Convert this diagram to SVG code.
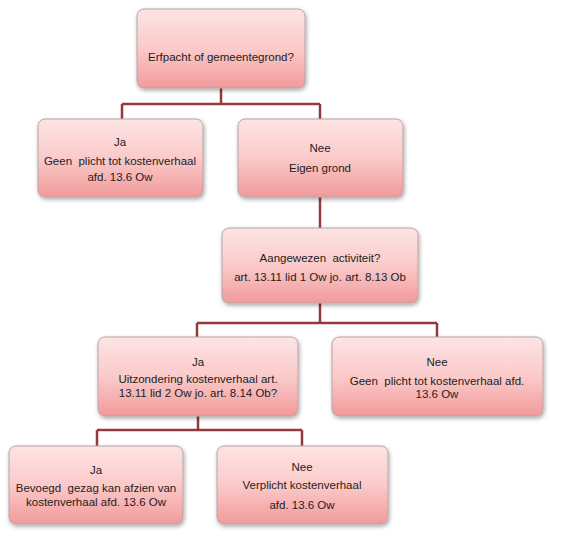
<svg xmlns="http://www.w3.org/2000/svg" width="567" height="546" viewBox="0 0 567 546">
<defs>
<linearGradient id="g" x1="0" y1="0" x2="0" y2="1">
<stop offset="0" stop-color="#fde4e4"/>
<stop offset="0.5" stop-color="#fbcaca"/>
<stop offset="1" stop-color="#f19a9a"/>
</linearGradient>
<filter id="sh" x="-10%" y="-10%" width="125%" height="130%">
<feGaussianBlur in="SourceAlpha" stdDeviation="2"/>
<feOffset dx="1" dy="2"/>
<feComponentTransfer><feFuncA type="linear" slope="0.35"/></feComponentTransfer>
<feMerge><feMergeNode/><feMergeNode in="SourceGraphic"/></feMerge>
</filter>
</defs>
<style>
.box{fill:url(#g);stroke:#b9a3a3;stroke-width:1;filter:url(#sh)}
text{font-family:"Liberation Sans",Arial,sans-serif;font-size:11.5px;fill:#222;text-anchor:middle;white-space:pre}
.c{fill:none;stroke:#943a3a;stroke-width:2.5}
</style>
<rect width="567" height="546" fill="#fff"/>
<g id="connectors">
<path class="c" d="M221 88 V104 M122 104 H320 M122 104 V119 M320 104 V119"/>
<path class="c" d="M320 197 V228"/>
<path class="c" d="M320 303 V323 M197 323 H437 M197 323 V337 M437 323 V337"/>
<path class="c" d="M198 416 V430 M97 430 H302 M97 430 V446 M302 430 V446"/>
</g>
<g id="n1"><rect class="box" x="137" y="9" width="168" height="79" rx="7"/>
<text x="221" y="61">Erfpacht of gemeentegrond?</text></g>
<g id="n2"><rect class="box" x="38" y="119" width="165" height="78" rx="7"/>
<text x="120" y="146">Ja</text><text x="120" y="165" xml:space="preserve">Geen  plicht tot kostenverhaal</text><text x="120" y="181">afd. 13.6 Ow</text></g>
<g id="n3"><rect class="box" x="238" y="119" width="165" height="78" rx="7"/>
<text x="320" y="152">Nee</text><text x="320" y="172">Eigen grond</text></g>
<g id="n4"><rect class="box" x="222" y="228" width="196" height="75" rx="7"/>
<text x="320" y="262" xml:space="preserve">Aangewezen  activiteit?</text><text x="320" y="281">art. 13.11 lid 1 Ow jo. art. 8.13 Ob</text></g>
<g id="n5"><rect class="box" x="98" y="337" width="200" height="79" rx="7"/>
<text x="198" y="366">Ja</text><text x="198" y="383">Uitzondering kostenverhaal art.</text><text x="198" y="397">13.11 lid 2 Ow jo. art. 8.14 Ob?</text></g>
<g id="n6"><rect class="box" x="332" y="337" width="211" height="79" rx="7"/>
<text x="437" y="366">Nee</text><text x="437" y="385" xml:space="preserve">Geen  plicht tot kostenverhaal afd.</text><text x="437" y="398">13.6 Ow</text></g>
<g id="n7"><rect class="box" x="9" y="446" width="174" height="78" rx="7"/>
<text x="96" y="474">Ja</text><text x="96" y="492" xml:space="preserve">Bevoegd  gezag kan afzien van</text><text x="96" y="506">kostenverhaal afd. 13.6 Ow</text></g>
<g id="n8"><rect class="box" x="217" y="446" width="171" height="78" rx="7"/>
<text x="302" y="471">Nee</text><text x="302" y="489">Verplicht kostenverhaal</text><text x="302" y="509">afd. 13.6 Ow</text></g>
</svg>
